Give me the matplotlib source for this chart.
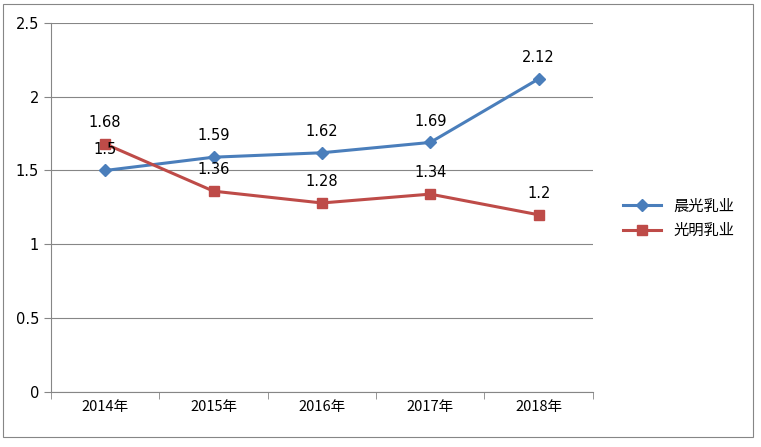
import matplotlib
matplotlib.use('Agg')
from matplotlib import pyplot as plt
from matplotlib.patches import Rectangle

categories = ['2014年', '2015年', '2016年', '2017年', '2018年']
chenguang = [1.5, 1.59, 1.62, 1.69, 2.12]
guangming = [1.68, 1.36, 1.28, 1.34, 1.2]
yticks = [0, 0.5, 1, 1.5, 2, 2.5]
ytick_labels = ['0', '0.5', '1', '1.5', '2', '2.5']

plt.rcParams['font.family'] = ['Noto Sans CJK SC', 'DejaVu Sans']

fig = plt.figure(figsize=(7.61, 4.47), dpi=100)
ax = fig.add_axes([0.067, 0.123, 0.712, 0.826])

x = list(range(len(categories)))
ax.plot(x, chenguang, color='#4a7ebb', lw=2.2, marker='D', ms=6, label='晨光乳业')
ax.plot(x, guangming, color='#be4b48', lw=2.2, marker='s', ms=7, label='光明乳业')

for xi, v in zip(x, chenguang):
    ax.annotate(f'{v:g}', (xi, v), xytext=(0, 10), textcoords='offset points',
                ha='center', va='bottom', fontsize=10.5, family='DejaVu Sans')
for xi, v in zip(x, guangming):
    ax.annotate(f'{v:g}', (xi, v), xytext=(0, 10), textcoords='offset points',
                ha='center', va='bottom', fontsize=10.5, family='DejaVu Sans')

ax.set_xlim(-0.5, len(categories) - 0.5)
ax.set_ylim(0, 2.5)
ax.set_yticks(yticks)
ax.set_yticklabels(ytick_labels, fontsize=10.5, family='DejaVu Sans')
ax.set_xticks(x)
ax.set_xticklabels(categories, fontsize=10.5)
ax.set_xticks([i - 0.5 for i in range(len(categories) + 1)], minor=True)
ax.tick_params(axis='x', which='major', length=0, pad=6)
ax.tick_params(axis='x', which='minor', length=5, color='#868686')
ax.tick_params(axis='y', length=5, color='#868686')
ax.grid(axis='y', color='#868686', lw=0.8)
ax.set_axisbelow(True)
for s in ['top', 'right']:
    ax.spines[s].set_visible(False)
for s in ['left', 'bottom']:
    ax.spines[s].set_color('#868686')

ax.legend(loc='center left', bbox_to_anchor=(1.03, 0.47), frameon=False,
          fontsize=11, handlelength=2.5)

fig.patches.append(Rectangle((0.004, 0.022), 0.985, 0.97, transform=fig.transFigure,
                             fill=False, edgecolor='#868686', lw=0.8))

fig.savefig('out.png', dpi=100)
